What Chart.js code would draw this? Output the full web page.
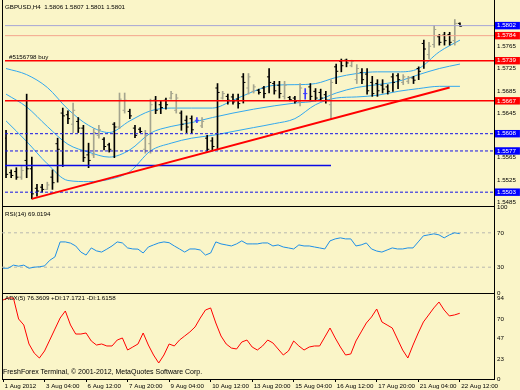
<!DOCTYPE html>
<html><head><meta charset="utf-8">
<script src="https://cdn.jsdelivr.net/npm/chart.js@4.4.0/dist/chart.umd.min.js"></script>
<style>
html,body{margin:0;padding:0;width:520px;height:390px;overflow:hidden;background:#FAF5C8;font-family:"Liberation Sans",Arial,sans-serif;}
body{position:relative;}
canvas{position:absolute;left:0;}
.ln{position:absolute;background:#000;}
.txt{position:absolute;font-size:6.2px;line-height:8px;color:#000;white-space:pre;}
</style></head><body>
<div class="ln" style="left:2px;top:0;width:1px;height:380px"></div>
<div class="ln" style="left:494px;top:0;width:1px;height:380px"></div>
<div class="ln" style="left:2px;top:206px;width:493px;height:1px"></div>
<div class="ln" style="left:2px;top:293px;width:493px;height:1px"></div>
<div class="ln" style="left:2px;top:379px;width:493px;height:1px"></div>
<canvas id="cMain" width="520" height="210" style="top:0;width:520px;height:210px"></canvas>
<canvas id="cRsi" width="520" height="100" style="top:200px;width:520px;height:100px"></canvas>
<canvas id="cAdx" width="520" height="104" style="top:286px;width:520px;height:104px"></canvas>
<div class="txt" id="hdr" style="left:5px;top:3px"></div>
<div class="txt" style="left:5px;top:210px">RSI(14) 69.0194</div>
<div class="txt" style="left:5px;top:294px">ADX(5) 76.3609 +DI:17.1721 -DI:1.6158</div>
<div class="txt" style="left:3px;top:368px;font-size:7px">FreshForex Terminal, © 2001-2012, MetaQuotes Software Corp.</div>
<script>
// ---------- DATA ----------
const symbol = 'GBPUSD,H4';
const opens = [1.5600,1.5538,1.5540,1.5530,1.5560,1.5545,1.5510,1.5512,1.5508,1.5530,
 1.5590,1.5645,1.5642,1.5625,1.5630,1.5618,1.5570,1.5570,1.5605,1.5598,
 1.5588,1.5625,1.5620,1.5650,1.5648,1.5618,1.5616,1.5580,1.5590,1.5668,
 1.5660,1.5668,1.5672,1.5650,1.5645,1.5632,1.5635,1.5632,1.5622,1.5600,
 1.5595,1.5690,1.5672,1.5675,1.5674,1.5670,1.5710,1.5690,1.5684,1.5686,
 1.5690,1.5710,1.5698,1.5695,1.5675,1.5673,1.5672,1.5665,1.5680,1.5692,
 1.5684,1.5682,1.5678,1.5660,1.5728,1.5738,1.5740,1.5730,1.5705,1.5718,
 1.5715,1.5700,1.5698,1.5695,1.5692,1.5710,1.5712,1.5700,1.5702,1.5708,
 1.5725,1.5770,1.5750,1.5768,1.5782,1.5785,1.5786,1.5775,1.5806];
const highs = [1.5614,1.5543,1.5547,1.5549,1.5679,1.5566,1.5517,1.5517,1.5521,1.5543,
 1.5600,1.5654,1.5649,1.5663,1.5637,1.5623,1.5591,1.5617,1.5623,1.5601,
 1.5591,1.5628,1.5681,1.5681,1.5652,1.5623,1.5619,1.5614,1.5670,1.5675,
 1.5667,1.5672,1.5684,1.5679,1.5649,1.5640,1.5640,1.5637,1.5637,1.5605,
 1.5601,1.5698,1.5684,1.5679,1.5679,1.5679,1.5716,1.5716,1.5696,1.5688,
 1.5693,1.5725,1.5702,1.5702,1.5702,1.5675,1.5675,1.5698,1.5689,1.5698,
 1.5689,1.5688,1.5684,1.5705,1.5733,1.5742,1.5742,1.5740,1.5732,1.5725,
 1.5725,1.5711,1.5705,1.5705,1.5696,1.5716,1.5716,1.5714,1.5711,1.5711,
 1.5728,1.5776,1.5772,1.5802,1.5786,1.5790,1.5790,1.5813,1.5807];
const lows = [1.5529,1.5529,1.5526,1.5526,1.5529,1.5491,1.5496,1.5503,1.5508,1.5508,
 1.5521,1.5549,1.5626,1.5610,1.5610,1.5558,1.5547,1.5565,1.5600,1.5579,
 1.5575,1.5565,1.5617,1.5645,1.5635,1.5601,1.5610,1.5573,1.5573,1.5644,
 1.5644,1.5652,1.5670,1.5645,1.5614,1.5610,1.5609,1.5628,1.5619,1.5575,
 1.5579,1.5579,1.5670,1.5661,1.5661,1.5654,1.5663,1.5679,1.5681,1.5679,
 1.5672,1.5681,1.5679,1.5672,1.5670,1.5667,1.5663,1.5658,1.5670,1.5667,
 1.5667,1.5667,1.5663,1.5635,1.5698,1.5719,1.5728,1.5728,1.5698,1.5698,
 1.5679,1.5675,1.5675,1.5681,1.5679,1.5684,1.5689,1.5696,1.5698,1.5698,
 1.5705,1.5725,1.5742,1.5763,1.5767,1.5767,1.5767,1.5767,1.5801];
const closes = [1.5535,1.5533,1.5530,1.5542,1.5545,1.5500,1.5505,1.5508,1.5516,1.5520,
 1.5580,1.5640,1.5635,1.5650,1.5618,1.5565,1.5560,1.5610,1.5615,1.5585,
 1.5580,1.5620,1.5670,1.5668,1.5640,1.5605,1.5612,1.5605,1.5660,1.5650,
 1.5655,1.5660,1.5680,1.5672,1.5625,1.5620,1.5615,1.5632,1.5630,1.5580,
 1.5585,1.5682,1.5680,1.5668,1.5665,1.5662,1.5700,1.5710,1.5692,1.5682,
 1.5680,1.5700,1.5685,1.5680,1.5695,1.5669,1.5666,1.5690,1.5680,1.5675,
 1.5672,1.5672,1.5668,1.5700,1.5720,1.5730,1.5735,1.5738,1.5725,1.5705,
 1.5685,1.5680,1.5685,1.5688,1.5684,1.5700,1.5705,1.5710,1.5708,1.5704,
 1.5720,1.5760,1.5765,1.5795,1.5772,1.5775,1.5772,1.5806,1.5801];

const bandBars   = [0,4,8,12,16,20,24,28,32,36,40,44,48,52,56,60,64,68,72,76,80,84,88];
const upperBand  = [1.5725,1.5714,1.5691,1.5652,1.5623,1.5610,1.5631,1.5649,1.5654,1.5654,1.5654,1.5668,1.5684,1.5695,1.5696,1.5698,1.5709,1.5716,1.5719,1.5719,1.5725,1.5755,1.5776];
const middleBand = [1.5679,1.5656,1.5621,1.5589,1.5575,1.5566,1.5579,1.5609,1.5621,1.5628,1.5637,1.5645,1.5652,1.5658,1.5663,1.5667,1.5681,1.5691,1.5696,1.5702,1.5714,1.5725,1.5733];
const lowerBand  = [1.5631,1.5594,1.5554,1.5524,1.5522,1.5526,1.5540,1.5577,1.5591,1.5600,1.5605,1.5612,1.5619,1.5626,1.5635,1.5660,1.5672,1.5674,1.5677,1.5684,1.5689,1.5693,1.5693];

const levelValues = [1.5802,1.5784,1.5739,1.5667,1.5608,1.5577,1.5503];
const supportLevel = 1.5551, supportEndBar = 63;
const trendBars = [5,86], trendPrices = [1.5491,1.5691];
const orderLevel = 1.5739, orderLabel = '#5156798 buy';
const priceTicks = [1.5765,1.5725,1.5685,1.5645,1.5565,1.5525,1.5485];

const rsi = [28.8,28.8,32.4,31.2,32.4,28.8,30.0,30.5,31.5,38.0,
 42.0,59.4,59.4,58.0,54.7,47.6,44.1,52.4,49.0,47.6,
 51.0,54.7,59.4,58.2,52.4,51.2,51.0,46.5,53.5,55.9,
 58.2,59.4,58.5,54.7,51.2,47.6,51.2,51.2,50.0,44.1,
 46.5,59.4,57.1,55.9,54.7,57.1,60.6,57.1,57.1,57.1,
 58.2,58.2,54.7,55.9,53.5,52.4,51.2,55.9,54.7,54.7,
 53.5,52.4,51.2,60.6,62.9,64.1,62.9,62.9,54.7,55.9,
 58.2,51.2,48.8,47.6,50.0,52.4,51.2,51.2,52.4,52.4,
 59.4,66.5,67.6,68.8,67.6,64.1,67.6,70.0,69.0];
const rsiLevels = [70,30];
const rsiTicks = [100,70,30,0];

const adx = [91.9,94.2,94.2,69.8,62.8,40.7,30.2,24.4,32.6,45.3,
 58.1,70.9,79.1,62.8,52.3,52.3,53.5,44.2,39.5,40.7,
 38.4,38.4,45.3,47.7,33.7,37.2,40.7,53.5,39.5,27.9,
 18.6,27.9,40.7,38.4,45.3,50.0,54.7,60.5,70.9,80.2,
 82.6,65.1,50.0,40.7,36.0,34.9,43.0,45.3,37.2,33.7,
 38.4,45.3,41.9,34.9,27.9,32.6,44.2,38.4,33.7,37.2,
 38.4,38.4,48.8,59.3,47.7,37.2,27.9,29.1,44.2,54.7,
 65.1,72.1,81.4,66.3,62.8,59.3,46.5,33.7,24.4,39.5,
 53.5,66.3,74.4,82.6,89.5,80.2,73.3,74.5,76.4];
const adxTicks = [94,70,47,23,0];

const dateBars   = [0,8,16,24,32,40,48,56,64,72,80,88];
const dateLabels = ['1 Aug 2012','3 Aug 04:00','6 Aug 12:00','7 Aug 20:00','9 Aug 04:00','10 Aug 12:00','13 Aug 20:00','15 Aug 04:00','16 Aug 12:00','17 Aug 20:00','21 Aug 04:00','22 Aug 12:00'];

// ---------- STYLE ----------
const FONT = '"Liberation Sans", Arial, sans-serif';
const FS = 6.2;
Chart.defaults.font.family = FONT;
Chart.defaults.font.size = FS;
Chart.defaults.color = '#000';
const XMIN = -0.2, XMAX = 94.6;
const levelLine  = ['#A6A6D6','#F4A68E','#FF0000','#FF0000','#1414E6','#1414E6','#1414E6'];
const levelBox   = ['#0000FF','#FF0000','#FF0000','#FF0000','#0000FF','#0000FF','#0000FF'];
const levelDash  = [[],[],[],[],[3,2],[3,2],[3,2]];
const levelWidth = [1,1,1.5,1.5,1,1,1];
const BAND = '#33A8EE';
const barColor = i => closes[i] > opens[i] ? '#A4A48E' : (closes[i] < opens[i] ? '#000000' : '#3A3AFF');

document.getElementById('hdr').textContent =
  symbol + '  ' + [opens, highs, lows, closes].map(a => a[a.length-1].toFixed(4)).join(' ');

const baseOpts = {
  responsive:false, animation:false, events:[],
  plugins:{legend:{display:false}, tooltip:{enabled:false}},
};
function noPad(s){ s.paddingTop = 0; s.paddingBottom = 0; s.paddingLeft = 0; s.paddingRight = 0; }
function xScale(show){
  const sc = {type:'linear', min:XMIN, max:XMAX, offset:false, display:show,
    grid:{display:show, drawOnChartArea:false, drawTicks:true, tickLength:3, color:'#000', offset:false},
    border:{display:false},
    afterBuildTicks(s){ s.ticks = dateBars.map(v => ({value:v})); },
    ticks:{autoSkip:false, maxRotation:0, minRotation:0, align:'start', padding:1, labelOffset:1.5,
      callback:(v,i) => dateLabels[i]}
  };
  if (show) sc.afterFit = s => { s.height = 11; noPad(s); };
  return sc;
}
function yScale(min, max, tickVals, extra){
  return Object.assign({type:'linear', position:'right', min, max,
    grid:{display:false, drawTicks:false, tickLength:0}, border:{display:false},
    afterFit(s){ s.width = 26; noPad(s); },
    afterBuildTicks(s){ s.ticks = tickVals.map(v => ({value:v})); },
    ticks:{autoSkip:false, padding:3}
  }, extra || {});
}
const hline = (v, x0, x1, color, width, dash, order) => ({
  type:'line', data:[{x:x0,y:v},{x:x1,y:v}], borderColor:color, borderWidth:width,
  borderDash:dash, pointRadius:0, order
});
const curve = (xs, ys, color, order) => ({
  type:'line', data:xs.map((x,k)=>({x, y:ys[k]})), borderColor:color, borderWidth:1,
  pointRadius:0, cubicInterpolationMode:'monotone', order
});

// ---------- MAIN PRICE CHART ----------
const allPriceTicks = levelValues.concat(priceTicks);
const lvlIdx = v => levelValues.findIndex(l => Math.abs(l - v) < 1e-7);
const mainDatasets = [];
levelValues.forEach((v,k) => mainDatasets.push(hline(v, XMIN, XMAX, levelLine[k], levelWidth[k], levelDash[k], 1)));
mainDatasets.push(hline(supportLevel, XMIN, supportEndBar, '#0A0AE6', 1.6, [], 1));
mainDatasets.push({type:'line', data:trendBars.map((x,k)=>({x, y:trendPrices[k]})),
  borderColor:'#FF0000', borderWidth:2, pointRadius:0, order:0});
mainDatasets.push(curve(bandBars, upperBand, BAND, 4));
mainDatasets.push(curve(bandBars, middleBand, BAND, 4));
mainDatasets.push(curve(bandBars, lowerBand, BAND, 4));
mainDatasets.push({type:'bar', data:highs.map((h,i)=>({x:i, y:[lows[i], h]})),
  barThickness:1, backgroundColor:ctx => barColor(ctx.dataIndex), order:2});
mainDatasets.push({type:'scatter', data:opens.map((o,i)=>({x:i-0.2, y:o})), pointStyle:'line',
  pointRadius:1.1, pointBorderWidth:1, pointBorderColor:ctx => barColor(ctx.dataIndex), showLine:false, order:2});
mainDatasets.push({type:'scatter', data:closes.map((c,i)=>({x:i+0.2, y:c})), pointStyle:'line',
  pointRadius:1.1, pointBorderWidth:1, pointBorderColor:ctx => barColor(ctx.dataIndex), showLine:false, order:2});

const orderLabelPlugin = {
  id:'orderLabel',
  afterDatasetsDraw(chart){
    const {ctx, scales:{x, y}} = chart;
    ctx.save();
    ctx.font = FS + 'px ' + FONT; ctx.fillStyle = '#000'; ctx.textBaseline = 'alphabetic';
    ctx.fillText(orderLabel, x.getPixelForValue(0) + 3, y.getPixelForValue(orderLevel) - 1.5);
    ctx.restore();
  }
};

new Chart(document.getElementById('cMain'), {
  type:'scatter',
  data:{datasets:mainDatasets},
  options:Object.assign({}, baseOpts, {
    layout:{padding:{left:2, top:2, right:0, bottom:4}},
    scales:{
      x: xScale(false),
      y: yScale(1.5480, 1.5839, allPriceTicks, {
        ticks:{autoSkip:false, padding:3,
          callback:v => Number(v).toFixed(4),
          color:ctx => lvlIdx(ctx.tick.value) >= 0 ? '#FFFFFF' : '#000000',
          showLabelBackdrop:ctx => lvlIdx(ctx.tick.value) >= 0,
          backdropColor:ctx => { const k = lvlIdx(ctx.tick.value); return k >= 0 ? levelBox[k] : 'rgba(0,0,0,0)'; },
          backdropPadding:{top:0, bottom:0, left:2, right:4}
        }
      })
    }
  }),
  plugins:[orderLabelPlugin]
});

// ---------- RSI ----------
const idx = rsi.map((_,i)=>i);
new Chart(document.getElementById('cRsi'), {
  type:'scatter',
  data:{datasets:[
    ...rsiLevels.map(v => hline(v, XMIN, XMAX, '#B8B8B0', 1, [3,3], 2)),
    {type:'line', data:idx.map(i=>({x:i, y:rsi[i]})), borderColor:'#1E8FE6', borderWidth:1, pointRadius:0, order:0}
  ]},
  options:Object.assign({}, baseOpts, {
    layout:{padding:{left:2, top:7, right:0, bottom:7}},
    scales:{ x: xScale(false), y: yScale(0, 100, rsiTicks) }
  })
});

// ---------- ADX ----------
new Chart(document.getElementById('cAdx'), {
  type:'scatter',
  data:{datasets:[
    {type:'line', data:idx.map(i=>({x:i, y:adx[i]})), borderColor:'#FF0000', borderWidth:1, pointRadius:0, order:0}
  ]},
  options:Object.assign({}, baseOpts, {
    layout:{padding:{left:2, top:7, right:0, bottom:0}},
    scales:{ x: xScale(true), y: yScale(0, 100, adxTicks) }
  })
});
</script>
</body></html>
